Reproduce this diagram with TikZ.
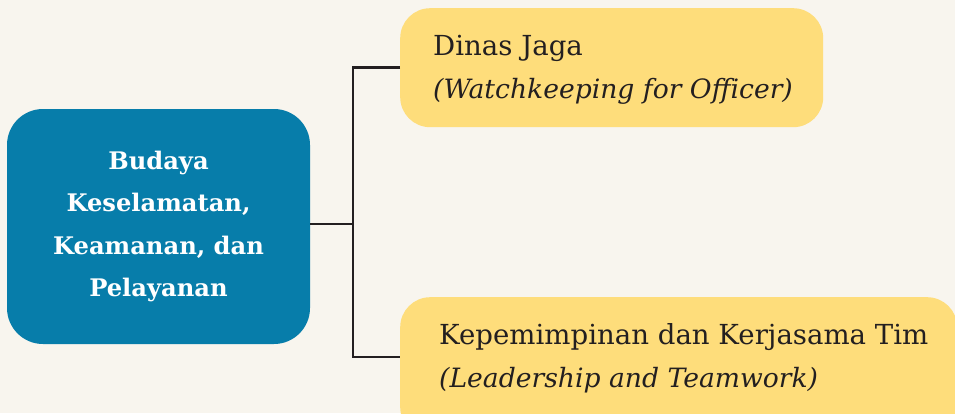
\documentclass[tikz,border=0pt]{standalone}
\usepackage{fontspec}
\setmainfont{DejaVu Serif}
\definecolor{paper}{RGB}{248,245,238}
\definecolor{seablue}{RGB}{7,125,170}
\definecolor{sand}{RGB}{254,221,123}
\definecolor{ink}{RGB}{35,31,32}
\tikzset{
  mainbox/.style={fill=seablue, rounded corners=36pt, text=white,
    minimum width=303pt, minimum height=235pt, inner sep=0pt,
    align=center, font=\fontsize{24.2}{42.5}\selectfont\bfseries},
  topicbox/.style={fill=sand, rounded corners=30pt, inner sep=0pt,
    anchor=north west},
  topictext/.style={text=ink, inner sep=0pt, anchor=base west,
    font=\fontsize{27.6}{43}\selectfont},
  topicnote/.style={topictext, font=\fontsize{26.6}{43}\selectfont\itshape},
  link/.style={draw=ink, line width=2.6pt}
}
\begin{document}
\begin{tikzpicture}[x=1pt,y=-1pt]
  \fill[paper] (0,0) rectangle (955,413);
  \useasboundingbox (0,0) rectangle (955,413);

  % central theme
  \node[mainbox] (core) at (158.5,226.5)
    {Budaya\\Keselamatan,\\Keamanan, dan\\Pelayanan};

  % the two branches
  \node[topicbox, minimum width=423pt, minimum height=119pt] (watch) at (400,8) {};
  \node[topictext] (watchname) at (433,55) {Dinas Jaga};
  \node[topicnote] (watchnote) at (433,98) {(Watchkeeping for Officer)};

  \node[topicbox, minimum width=557pt, minimum height=140pt] (lead) at (400,297) {};
  \node[topictext] (leadname) at (439,344) {Kepemimpinan dan Kerjasama Tim};
  \node[topicnote] (leadnote) at (439,387) {(Leadership and Teamwork)};

  % bracket connector
  \coordinate (jn) at (353,224);
  \coordinate (lowtap) at (0,357);
  \draw[link] (core.east |- jn) -- (jn);
  \draw[link] (watch.west) -| (jn) |- (lead.west |- lowtap);
\end{tikzpicture}
\end{document}
